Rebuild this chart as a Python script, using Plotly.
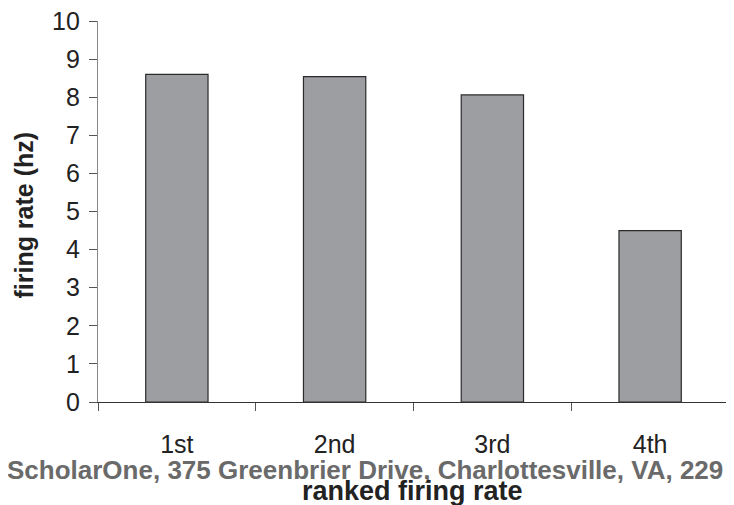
import plotly.graph_objects as go

categories = ["1st", "2nd", "3rd", "4th"]
firing_rate = [8.6, 8.54, 8.06, 4.5]
y_ticks = [0, 1, 2, 3, 4, 5, 6, 7, 8, 9, 10]

FONT = "Arial, Liberation Sans, sans-serif"

# page has an 8px body margin; compensate so the figure lands on the 734x505 view
OFF = 8
W, H = 734 - OFF, 505 - OFF
L, R, T, B = 97.5 - OFF, 734 - 729, 21 - OFF, 505 - 402
PW, PH = W - L - R, H - T - B


def px(x):
    return (x - OFF - L) / PW


def py(y):
    return (H - B - (y - OFF)) / PH


fig = go.Figure(
    go.Bar(
        x=categories,
        y=firing_rate,
        marker=dict(color="#9d9ea2", line=dict(color="#2b2b2b", width=1.2)),
        width=0.395,
    )
)

fig.update_layout(
    width=W,
    height=H,
    margin=dict(l=L, r=R, t=T, b=B, autoexpand=False),
    plot_bgcolor="white",
    paper_bgcolor="white",
    showlegend=False,
    font=dict(family=FONT, color="#222222", size=25),
)

fig.update_xaxes(
    type="category",
    range=[-0.5, 3.5],
    showline=True,
    linecolor="#333333",
    linewidth=1.2,
    ticks="outside",
    ticklen=8,
    tickcolor="#555555",
    tickson="boundaries",
    ticklabelstandoff=20,
    ticklabeloverflow="allow",
    tickfont=dict(size=25, color="#222222"),
    showgrid=False,
    zeroline=False,
    automargin=False,
)

fig.update_yaxes(
    range=[0, 10],
    tickvals=y_ticks,
    showline=True,
    linecolor="#888888",
    linewidth=1.2,
    ticks="outside",
    ticklen=8,
    tickcolor="#555555",
    ticklabelstandoff=4,
    ticklabeloverflow="allow",
    tickfont=dict(size=25, color="#222222"),
    showgrid=False,
    zeroline=False,
    automargin=False,
)

fig.add_annotation(
    text="ScholarOne, 375 Greenbrier Drive, Charlottesville, VA, 229",
    xref="paper", yref="paper",
    x=px(365), y=py(470),
    xanchor="center", yanchor="middle",
    showarrow=False,
    font=dict(family=FONT, size=26, color="#6a6a6a", weight="bold"),
)

fig.add_annotation(
    text="<b>ranked firing rate</b>",
    xref="paper", yref="paper",
    x=px(412), y=py(491),
    xanchor="center", yanchor="middle",
    showarrow=False,
    font=dict(family=FONT, size=27, color="#222222"),
)

fig.add_annotation(
    text="<b>firing rate (hz)</b>",
    xref="paper", yref="paper",
    x=px(23), y=py(215),
    xanchor="center", yanchor="middle",
    textangle=-90,
    showarrow=False,
    font=dict(family=FONT, size=25, color="#222222"),
)

fig.write_html("out.html")
